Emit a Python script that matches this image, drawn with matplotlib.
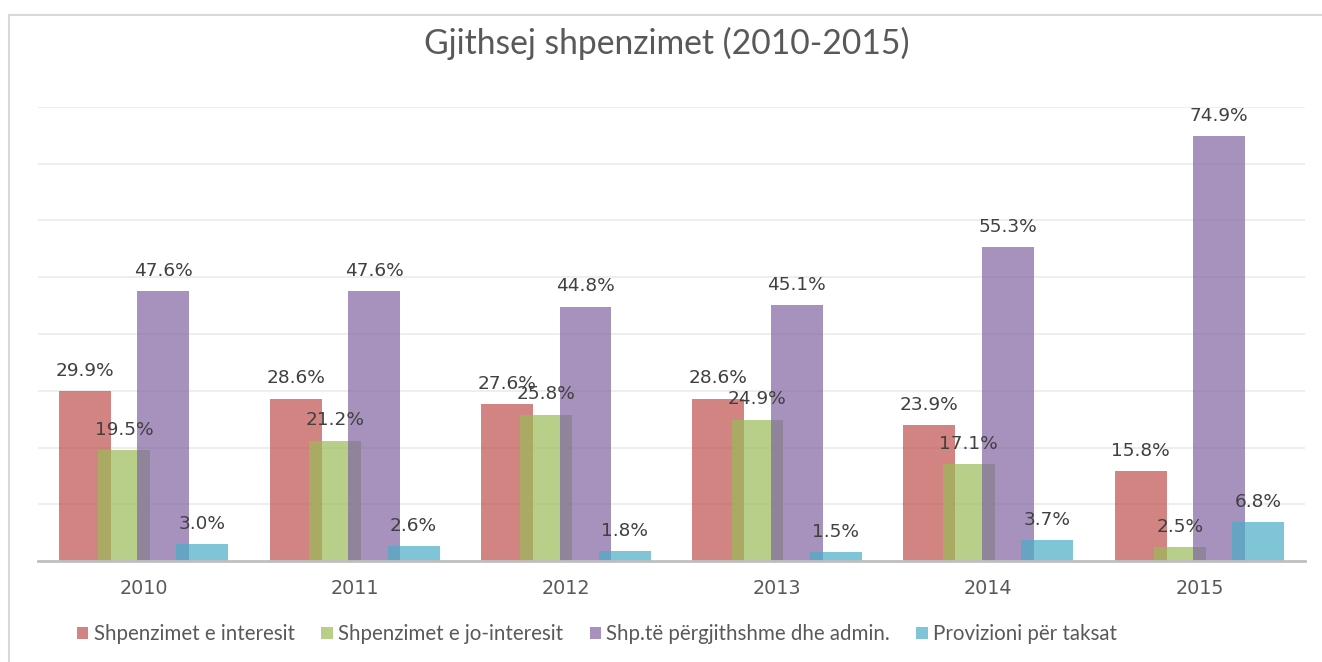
import numpy as np
import matplotlib.pyplot as plt
from matplotlib.patches import Rectangle

years = ['2010', '2011', '2012', '2013', '2014', '2015']
interesit = [29.9, 28.6, 27.6, 28.6, 23.9, 15.8]
jo_interesit = [19.5, 21.2, 25.8, 24.9, 17.1, 2.5]
admin = [47.6, 47.6, 44.8, 45.1, 55.3, 74.9]
taksat = [3.0, 2.6, 1.8, 1.5, 3.7, 6.8]

series = [
    ('Shpenzimet e interesit', interesit, '#C0504D'),
    ('Shpenzimet e jo-interesit', jo_interesit, '#9BBB59'),
    ('Shp.të përgjithshme dhe admin.', admin, '#8064A2'),
    ('Provizioni për taksat', taksat, '#4BACC6'),
]

text_col = '#595959'

fig = plt.figure(figsize=(13.22, 6.62), dpi=100)
fig.patch.set_facecolor('white')
ax = fig.add_axes([38 / 1322, 1 - 561 / 662, (1305 - 38) / 1322, (561 - 107) / 662])

# chart frame (only top and left edges show in the reference)
fig.patches.append(Rectangle((9 / 1322, -0.1), 1.2, 1 - 15 / 662 + 0.1,
                             transform=fig.transFigure, fill=False,
                             edgecolor='#D9D9D9', linewidth=1.5))

x = np.arange(len(years))
width = 0.246
step = 0.1856

handles = []
for i, (name, vals, col) in enumerate(series):
    pos = x + (i - 1.5) * step
    bars = ax.bar(pos, vals, width, color=col, alpha=0.7, label=name, zorder=2 + i)
    handles.append(bars)
    for p, v in zip(pos, vals):
        ax.annotate(f'{v:.1f}%', (p, v), xytext=(0, 11), textcoords='offset points',
                    ha='center', va='baseline', fontsize=13.3, color='#404040',
                    family='DejaVu Sans', zorder=10)

ax.set_xlim(-0.5, len(years) - 0.5)
ax.set_ylim(0, 80)
ax.set_yticks(np.arange(10, 81, 10))
ax.yaxis.grid(True, color='#EBEBEB', linewidth=1.2, zorder=0)
ax.set_axisbelow(True)
ax.tick_params(axis='y', left=False, labelleft=False)
ax.set_xticks(x)
ax.set_xticklabels(years, fontsize=13.8, color=text_col, family='DejaVu Sans')
ax.tick_params(axis='x', length=0, pad=13)
for s in ['top', 'right', 'left']:
    ax.spines[s].set_visible(False)
ax.spines['bottom'].set_color('#BFBFBF')
ax.spines['bottom'].set_linewidth(2)
ax.spines['bottom'].set_zorder(20)

fig.text(667 / 1322, 1 - 43 / 662, 'Gjithsej shpenzimet (2010-2015)', ha='center', va='center',
         fontsize=24.2, color=text_col, family='Lato')

leg = fig.legend(handles=handles, loc='center', bbox_to_anchor=(597 / 1322, 1 - 634 / 662),
                 ncol=4, frameon=False, prop={'family': 'Lato', 'size': 14.8},
                 handlelength=0.55, handleheight=0.55, handletextpad=0.25,
                 columnspacing=1.3, borderaxespad=0)
for t in leg.get_texts():
    t.set_color(text_col)

fig.savefig('out.png', dpi=100, facecolor='white')
